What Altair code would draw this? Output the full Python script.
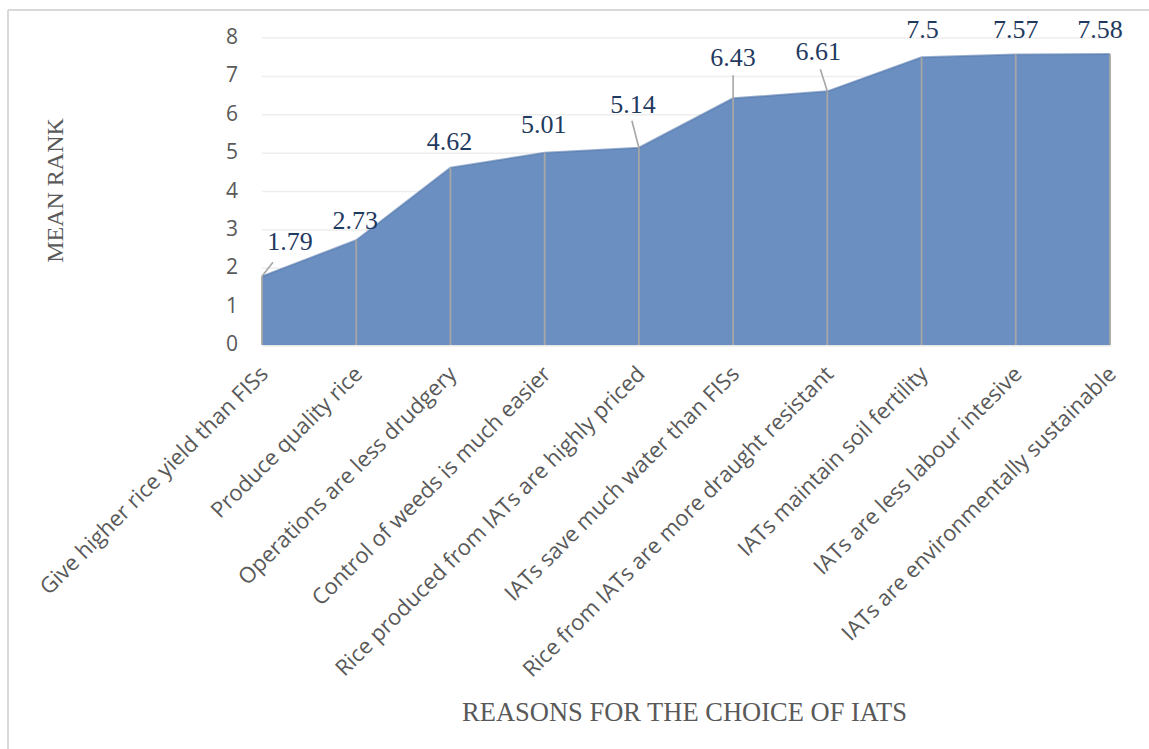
import altair as alt
import pandas as pd

reasons = [
    "Give higher rice yield than FISs",
    "Produce quality rice",
    "Operations are less drudgery",
    "Control of weeds is much easier",
    "Rice produced from IATs are highly priced",
    "IATs save much water than FISs",
    "Rice from IATs are more draught resistant",
    "IATs maintain soil fertility",
    "IATs are less labour intesive",
    "IATs are environmentally sustainable",
]
mean_rank = [1.79, 2.73, 4.62, 5.01, 5.14, 6.43, 6.61, 7.5, 7.57, 7.58]
rank_labels = ["1.79", "2.73", "4.62", "5.01", "5.14", "6.43", "6.61", "7.5", "7.57", "7.58"]
y_ticks = [0, 1, 2, 3, 4, 5, 6, 7, 8]

# pixel nudges for the value labels (dx, dy from each point)
label_nudge = [(28, -34), (-1, -19), (-1, -26), (-1, -28), (-6, -43),
               (0, -40), (-9, -39), (1, -27), (0, -25), (-10, -24)]
# leader lines for the labels that sit away from their point (end offset in px)
leaders = {
    "Give higher rice yield than FISs": (11, -14),
    "Rice produced from IATs are highly priced": (-7, -27),
    "IATs save much water than FISs": (0, -23),
    "Rice from IATs are more draught resistant": (-7, -22),
}

df = pd.DataFrame({"reason": reasons, "rank": mean_rank, "label": rank_labels, "base": 0})
ticks_df = pd.DataFrame({"rank": y_ticks, "tick": [str(t) for t in y_ticks]})

W, H = 848, 307
PAD_L, PAD_T = 262, 38

x_enc = alt.X(
    "reason:N",
    sort=reasons,
    scale=alt.Scale(type="point", padding=0),
    axis=alt.Axis(
        title="REASONS FOR THE CHOICE OF IATS",
        titleFont="Liberation Serif",
        titleFontSize=26.5,
        titleFontWeight="normal",
        titleColor="#595959",
        titleX=W / 2 - 2,
        titleY=367,
        titleBaseline="middle",
        labelAngle=-45,
        labelAlign="right",
        labelBaseline="middle",
        labelPadding=25,
        labelOffset=2,
        labelFont="Open Sans",
        labelFontSize=22,
        labelColor="#595959",
        labelLimit=800,
        labelOverlap=False,
        ticks=False,
        domain=True,
        domainColor="#cfcfcf",
        domainWidth=1.5,
        grid=False,
    ),
)

y_enc = alt.Y(
    "rank:Q",
    scale=alt.Scale(domain=[0, 8], nice=False),
    axis=alt.Axis(
        title="MEAN RANK",
        titleFont="Liberation Serif",
        titleFontSize=24,
        titleFontWeight="normal",
        titleColor="#595959",
        titleX=-207,
        titleY=152,
        titleBaseline="middle",
        labels=False,
        ticks=False,
        domain=False,
        grid=False,
    ),
)

base = alt.Chart(df)

# horizontal gridlines and value-axis labels, one per tick value
grid = alt.Chart(ticks_df).mark_rule(color="#eeeeee", strokeWidth=1.5).encode(
    x=alt.value(0), x2=alt.value(W), y=y_enc
)
tick_text = alt.Chart(ticks_df).mark_text(
    font="Open Sans", fontSize=21, color="#595959", align="right", baseline="middle"
).encode(x=alt.value(-24), y=y_enc, text="tick:N")

area = base.mark_area(
    color="#6a8fc0",
    opacity=1,
    line={"color": "#5578ad", "strokeWidth": 2, "strokeOpacity": 0.6},
).encode(x=x_enc, y=y_enc)

# drop lines from each point down to the baseline
drops = base.mark_rule(color="#a6a6a6", strokeWidth=1.8).encode(
    x=x_enc, y=y_enc, y2=alt.Y2("base:Q")
)

leader_layers = []
for name, (ldx, ldy) in leaders.items():
    leader_layers.append(
        base.transform_filter(alt.datum.reason == name)
        .mark_rule(color="#a6a6a6", strokeWidth=1.6, x2Offset=ldx, y2Offset=ldy)
        .encode(x=x_enc, x2=alt.X2("reason:N"), y=y_enc, y2=alt.Y2("rank:Q"))
    )

# value labels, one layer per point so each can be nudged clear of the outline
label_layers = []
for name, (ndx, ndy) in zip(reasons, label_nudge):
    label_layers.append(
        base.transform_filter(alt.datum.reason == name)
        .mark_text(
            font="Liberation Serif",
            fontSize=26,
            color="#1f3a5f",
            baseline="middle",
            align="center",
            dx=ndx,
            dy=ndy,
        )
        .encode(x=x_enc, y=y_enc, text="label:N")
    )

# outer frame (top and left edges)
frame_top = base.mark_rule(color="#d9d9d9", strokeWidth=1.5).encode(
    x=alt.value(8 - PAD_L), x2=alt.value(1149 - PAD_L), y=alt.value(10 - PAD_T)
)
frame_left = base.mark_rule(color="#d9d9d9", strokeWidth=1.5).encode(
    x=alt.value(8 - PAD_L), y=alt.value(10 - PAD_T), y2=alt.value(749 - PAD_T)
)

chart = (
    alt.layer(grid, tick_text, area, drops, *leader_layers, *label_layers, frame_top, frame_left)
    .properties(
        width=W,
        height=H,
        autosize=alt.AutoSizeParams(type="none"),
        padding={"left": PAD_L, "top": PAD_T, "right": 1149 - PAD_L - W, "bottom": 749 - PAD_T - H},
        background="white",
    )
    .configure_view(stroke=None)
)

chart.save("out.html", embed_options={"renderer": "svg", "actions": False})
